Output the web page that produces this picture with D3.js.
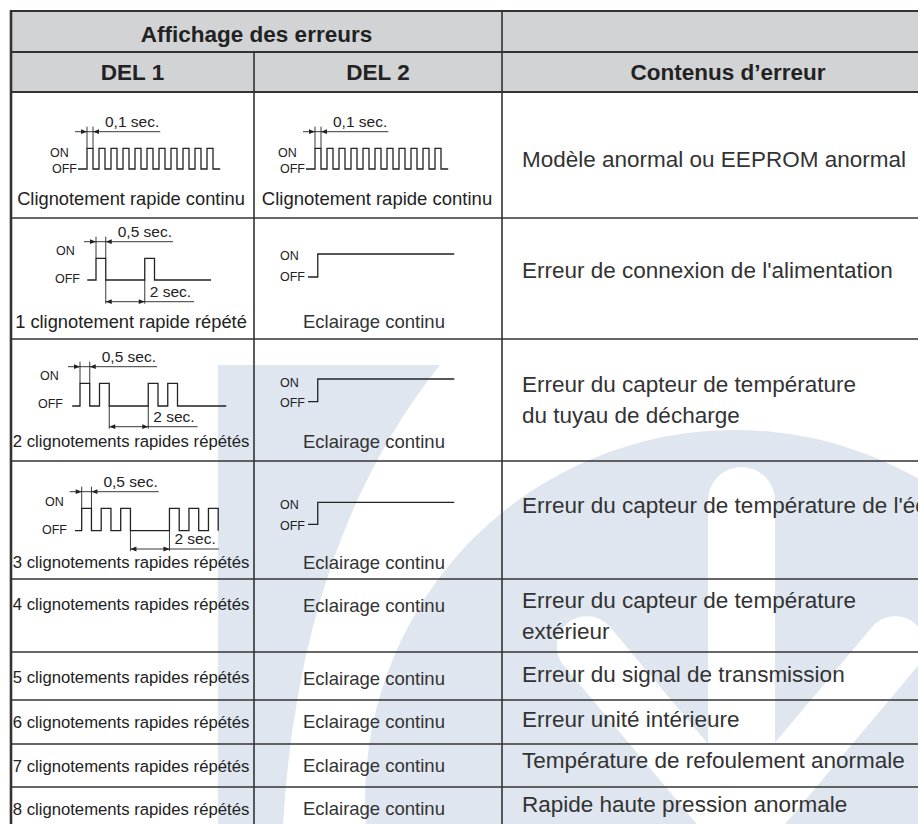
<!DOCTYPE html>
<html><head><meta charset="utf-8">
<script src="https://cdn.jsdelivr.net/npm/d3@7"></script>
<style>
html,body{margin:0;padding:0;background:#fff;}
svg{display:block;}
</style>
</head><body>
<svg id="c" width="918" height="824"></svg>
<script>
// ---------------- DATA ----------------
const headerGroup = "Affichage des erreurs";
const headerCols = ["DEL 1", "DEL 2", "Contenus d’erreur"];
const del1Labels = [
  "Clignotement rapide continu",
  "1 clignotement rapide répété",
  "2 clignotements rapides répétés",
  "3 clignotements rapides répétés",
  "4 clignotements rapides répétés",
  "5 clignotements rapides répétés",
  "6 clignotements rapides répétés",
  "7 clignotements rapides répétés",
  "8 clignotements rapides répétés"
];
const del2Labels = [
  "Clignotement rapide continu",
  "Eclairage continu", "Eclairage continu", "Eclairage continu",
  "Eclairage continu", "Eclairage continu", "Eclairage continu",
  "Eclairage continu", "Eclairage continu"
];
const errorContents = [
  ["Modèle anormal ou EEPROM anormal"],
  ["Erreur de connexion de l'alimentation"],
  ["Erreur du capteur de température", "du tuyau de décharge"],
  ["Erreur du capteur de température de l'échangeur"],
  ["Erreur du capteur de température", "extérieur"],
  ["Erreur du signal de transmission"],
  ["Erreur unité intérieure"],
  ["Température de refoulement anormale"],
  ["Rapide haute pression anormale"]
];
const stateLabels = ["ON", "OFF"];
const pulseLabels = ["0,1 sec.", "0,5 sec.", "0,5 sec.", "0,5 sec."];
const pauseLabel = "2 sec.";
// blink patterns of the four drawn diagrams (seconds)
const pulsesPerGroup = [11, 1, 2, 3];
const groupCount     = [1, 2, 2, 2];
const pulseSec       = [0.1, 0.5, 0.5, 0.5];
const pauseSec       = [0, 2, 2, 2];
const leadSec        = [0.15, 0.45, 0.4, 0.35];
const tailSec        = [0.12, 2.9, 2.5, 0];
const steadyLeadSec = 0.5, steadyOnSec = 7;

// ---------------- LAYOUT ----------------
const W = 918, H = 824;
const FONT = '"Liberation Sans", Arial, Helvetica, sans-serif';
const tableLeft = 11, tableTop = 11, tableRight = 954;
const headRow1 = 52, headRow2 = 92;
const colX = [11, 254, 502, 954];
const rowY = [92, 218, 339, 461, 579, 652, 700, 744, 787, 860];
const col1Base = [205, 328, 446.7, 568, 610, 683, 728, 771.7, 815];
const col2Base = [205, 328, 448, 569, 611.7, 685, 728, 771.7, 815];
const col3Base = [167, 278, 392, 513, 608, 681.7, 726.7, 768, 811.7];
const diagLayout = [
  {rise: 87,   pps: 60,   yOn: 148.3, yOff: 169,   yDim: 131.7, yDim2: null,  on: [50, 156.7], off: [52, 173]},
  {rise: 96,   pps: 19.5, yOn: 258.3, yOff: 280,   yDim: 241.7, yDim2: 301.7, on: [56, 255],   off: [55, 282.6]},
  {rise: 80,   pps: 19.5, yOn: 383.3, yOff: 406,   yDim: 366.7, yDim2: 426.7, on: [40, 380],   off: [38, 408]},
  {rise: 81.7, pps: 19.5, yOn: 508.3, yOff: 530.7, yDim: 491.7, yDim2: 549,   on: [45, 506],   off: [42, 534]}
];
const steadyLayout = [
  {start: 308, pps: 19.5, yOn: 254,   yOff: 277,   on: [280, 260],   off: [280, 280.7]},
  {start: 308, pps: 19.5, yOn: 379,   yOff: 401.7, on: [280, 386.7], off: [280, 406.7]},
  {start: 308, pps: 19.5, yOn: 502.3, yOff: 524.3, on: [280, 509],   off: [280, 530]}
];
const col2Shift = 228;
const INK = "#222", TEXT3 = "#333", GRID = "#333", HEAD = "#d1d3d5", TINT = "#dfe6ef";

const svg = d3.select("#c").attr("font-family", FONT);
svg.append("rect").attr("width", W).attr("height", H).attr("fill", "#fff");

// ---------------- watermark ----------------
const wm = svg.append("g").attr("fill", TINT);
wm.append("path").attr("d", "M218,365 H440 Q300,540 283,824 H218 Z");
wm.append("circle").attr("cx", 735).attr("cy", 800).attr("r", 370);
const wmw = svg.append("g").attr("fill", "#fff");
wmw.append("rect").attr("x", 708).attr("y", 467).attr("width", 67).attr("height", 420).attr("rx", 33.5);
[-40, 40].forEach(a => {
  wmw.append("rect").attr("x", 711).attr("y", 560).attr("width", 60).attr("height", 340).attr("rx", 30)
    .attr("transform", `rotate(${a},741,830)`);
});

// ---------------- header ----------------
svg.append("rect").attr("x", tableLeft).attr("y", tableTop)
  .attr("width", W - tableLeft).attr("height", headRow2 - tableTop).attr("fill", HEAD);

// ---------------- grid ----------------
const grid = svg.append("g").attr("stroke", GRID).attr("fill", "none");
[tableTop, headRow1, headRow2].forEach(y => grid.append("line")
  .attr("x1", tableLeft).attr("x2", W).attr("y1", y).attr("y2", y).attr("stroke-width", 2));
rowY.slice(1, -1).forEach(y => grid.append("line")
  .attr("x1", tableLeft).attr("x2", W).attr("y1", y).attr("y2", y).attr("stroke-width", 1.6));
grid.append("line").attr("x1", tableLeft).attr("x2", tableLeft).attr("y1", tableTop - 1).attr("y2", H).attr("stroke-width", 2.6);
grid.append("line").attr("x1", colX[1]).attr("x2", colX[1]).attr("y1", headRow1).attr("y2", H).attr("stroke-width", 1.6);
grid.append("line").attr("x1", colX[2]).attr("x2", colX[2]).attr("y1", tableTop).attr("y2", H).attr("stroke-width", 1.6);

// ---------------- header text ----------------
const ht = svg.append("g").attr("fill", INK).attr("font-weight", "bold").attr("font-size", 22.5).attr("text-anchor", "middle");
ht.append("text").attr("x", (colX[0] + colX[2]) / 2).attr("y", 41.7).text(headerGroup);
headerCols.forEach((t, i) => ht.append("text").attr("x", (colX[i] + colX[i + 1]) / 2).attr("y", 80).text(t));

// ---------------- body text ----------------
const bt = svg.append("g").attr("fill", INK);
del1Labels.forEach((t, i) => bt.append("text").attr("x", 131).attr("y", col1Base[i])
  .attr("text-anchor", "middle").attr("font-size", i < 2 ? 18.3 : 16.7).text(t));
del2Labels.forEach((t, i) => bt.append("text").attr("x", i === 0 ? 377 : 374).attr("y", col2Base[i])
  .attr("text-anchor", "middle").attr("font-size", 18.5).attr("fill", i === 0 ? INK : "#333").text(t));
errorContents.forEach((lines, i) => lines.forEach((t, j) => bt.append("text")
  .attr("x", 522).attr("y", col3Base[i] + j * 31).attr("font-size", 22.5).attr("fill", TEXT3).text(t)));

// ---------------- waveform diagrams ----------------
function pulseSeries(i) {
  const w = pulseSec[i], n = pulsesPerGroup[i], G = groupCount[i];
  const groupDur = (2 * n - 1) * w;
  const pts = [[-leadSec[i], 0]];
  const falls = [];
  for (let g = 0; g < G; g++) {
    const base = g * (groupDur + pauseSec[i]);
    for (let k = 0; k < n; k++) {
      const r = base + 2 * k * w;
      pts.push([r, 1], [r + w, 0]);
      falls.push(r + w);
    }
  }
  pts.push([falls[falls.length - 1] + tailSec[i], 0]);
  return {pts, groupDur};
}
function arrow(g, tip, y, dir) { // dir +1 points right, -1 points left
  g.append("path").attr("d", `M${tip},${y} L${tip - dir * 6},${y - 2.4} L${tip - dir * 6},${y + 2.4} Z`)
    .attr("fill", INK).attr("stroke", "none");
}
function drawPulse(i, dx) {
  const L = diagLayout[i];
  const s = pulseSeries(i);
  const x = d3.scaleLinear().domain([0, 1]).range([L.rise + dx, L.rise + dx + L.pps]);
  const y = d3.scaleLinear().domain([0, 1]).range([L.yOff, L.yOn]);
  const g = svg.append("g").attr("stroke", INK).attr("fill", "none");
  g.append("path").attr("d", d3.line().x(d => x(d[0])).y(d => y(d[1])).curve(d3.curveStepAfter)(s.pts))
    .attr("stroke-width", 1.3);
  const fs = 12.5;
  g.append("text").attr("x", L.on[0] + dx).attr("y", L.on[1]).attr("font-size", fs).attr("fill", INK).attr("stroke", "none").text(stateLabels[0]);
  g.append("text").attr("x", L.off[0] + dx).attr("y", L.off[1]).attr("font-size", fs).attr("fill", INK).attr("stroke", "none").text(stateLabels[1]);
  // pulse width dimension
  const r0 = x(0), f0 = x(pulseSec[i]);
  [r0, f0].forEach(xx => g.append("line").attr("x1", xx).attr("x2", xx).attr("y1", L.yDim - 5).attr("y2", L.yOn).attr("stroke-width", 0.9));
  const t1 = g.append("text").attr("x", f0 + 12).attr("y", L.yDim - 4.5).attr("font-size", 15.5)
    .attr("fill", INK).attr("stroke", "none").text(pulseLabels[i]);
  const e1 = f0 + 12 + t1.node().getComputedTextLength() + 1;
  g.append("line").attr("x1", r0 - 12).attr("x2", e1).attr("y1", L.yDim).attr("y2", L.yDim).attr("stroke-width", 0.9);
  arrow(g, r0, L.yDim, 1); arrow(g, f0, L.yDim, -1);
  // pause dimension
  if (groupCount[i] > 1) {
    const xf = x(s.groupDur), xr = x(s.groupDur + pauseSec[i]);
    [xf, xr].forEach(xx => g.append("line").attr("x1", xx).attr("x2", xx).attr("y1", L.yOff).attr("y2", L.yDim2 + 2).attr("stroke-width", 0.9));
    const t2 = g.append("text").attr("x", xr + 5).attr("y", L.yDim2 - 5).attr("font-size", 15.5)
      .attr("fill", INK).attr("stroke", "none").text(pauseLabel);
    const e2 = xr + 5 + t2.node().getComputedTextLength() + 3;
    g.append("line").attr("x1", xf).attr("x2", e2).attr("y1", L.yDim2).attr("y2", L.yDim2).attr("stroke-width", 0.9);
    arrow(g, xf, L.yDim2, -1); arrow(g, xr, L.yDim2, 1);
  }
}
drawPulse(0, 0);
drawPulse(0, col2Shift);
drawPulse(1, 0);
drawPulse(2, 0);
drawPulse(3, 0);

function drawSteady(L) {
  const x = d3.scaleLinear().domain([0, 1]).range([L.start, L.start + L.pps]);
  const y = d3.scaleLinear().domain([0, 1]).range([L.yOff, L.yOn]);
  const pts = [[0, 0], [steadyLeadSec, 1], [steadyLeadSec + steadyOnSec, 1]];
  const g = svg.append("g");
  g.append("path").attr("d", d3.line().x(d => x(d[0])).y(d => y(d[1])).curve(d3.curveStepAfter)(pts))
    .attr("stroke", INK).attr("stroke-width", 1.3).attr("fill", "none");
  g.append("text").attr("x", L.on[0]).attr("y", L.on[1]).attr("font-size", 12.5).attr("fill", INK).text(stateLabels[0]);
  g.append("text").attr("x", L.off[0]).attr("y", L.off[1]).attr("font-size", 12.5).attr("fill", INK).text(stateLabels[1]);
}
steadyLayout.forEach(drawSteady);
</script>
</body></html>
